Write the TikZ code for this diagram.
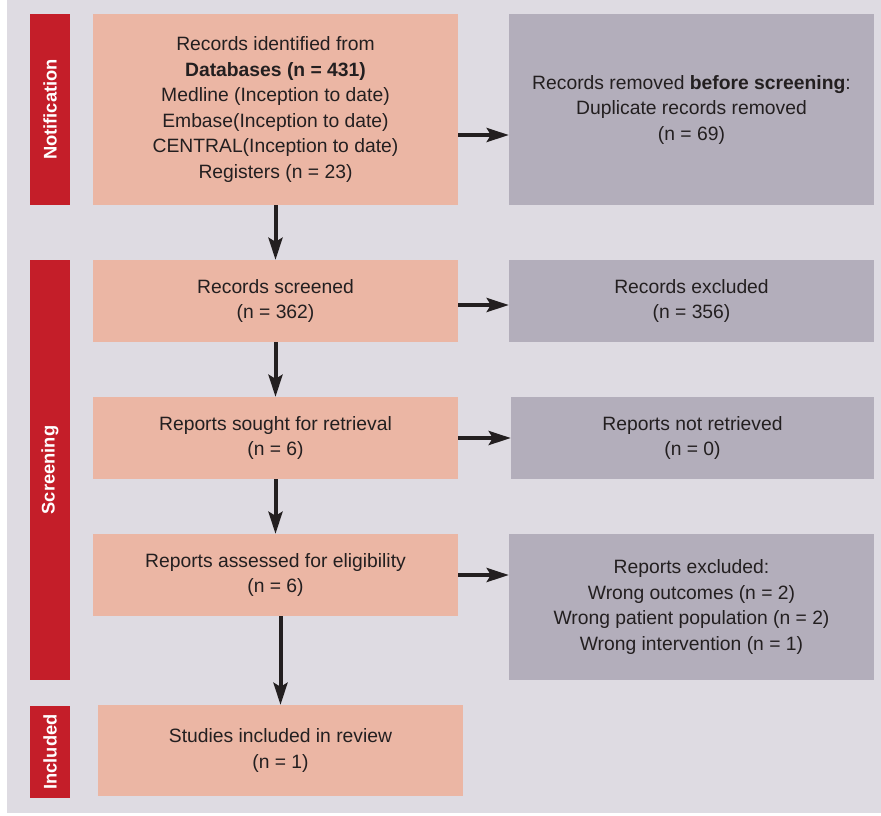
\documentclass[tikz,border=0pt]{standalone}
\usepackage{fontspec}
\setmainfont{Liberation Sans}
\usetikzlibrary{arrows.meta}

\definecolor{bgcol}{HTML}{DEDBE2}
\definecolor{barred}{HTML}{C41E29}
\definecolor{salmon}{HTML}{EBB6A4}
\definecolor{greybox}{HTML}{B3AEBB}
\definecolor{inkcol}{HTML}{231F20}

\tikzset{
  phase/.style={fill=barred, minimum width=40pt, inner sep=0pt, text=white,
    rotate=90, font=\fontsize{18.3}{20}\selectfont\bfseries},
  mainbox/.style={fill=salmon, minimum width=365pt, inner sep=0pt, align=center,
    text=inkcol, font=\fontsize{19.3}{25.5}\selectfont},
  sidebox/.style={mainbox, fill=greybox},
  flow/.style={line width=4pt, draw=inkcol,
    -{Stealth[length=22pt,width=14pt,inset=4pt]}}
}

\begin{document}
\begin{tikzpicture}[x=1pt,y=-1pt]

\useasboundingbox (0,0) rectangle (881,815);
\fill[bgcol] (7,0) rectangle (881,813);

%phase bars:
\node[phase, minimum width=191pt, minimum height=40pt] (notif) at (50,109.5) {Notification};
\node[phase, minimum width=420pt, minimum height=40pt] (screen) at (50,470) {Screening};
\node[phase, minimum width=92pt, minimum height=40pt] (incl) at (50,752) {Included};

%left column:
\node[mainbox, minimum height=191pt] (ident) at (275.5,109.5)
  {Records identified from\\ \textbf{Databases (n = 431)}\\ Medline (Inception to date)\\
   Embase(Inception to date)\\ CENTRAL(Inception to date)\\ Registers (n = 23)};
\node[mainbox, minimum height=82pt] (screened) at (275.5,301) {Records screened\\ (n = 362)};
\node[mainbox, minimum height=82pt] (sought) at (275.5,438) {Reports sought for retrieval\\ (n = 6)};
\node[mainbox, minimum height=82pt] (assessed) at (275.5,575) {Reports assessed for eligibility\\ (n = 6)};
\node[mainbox, minimum height=91pt] (included) at (280.5,750.5) {Studies included in review\\ (n = 1)};

%right column:
\node[sidebox, minimum height=191pt] (removed) at (691.5,109.5)
  {Records removed \textbf{before screening}:\\ Duplicate records removed\\ (n = 69)};
\node[sidebox, minimum height=82pt] (excluded) at (691.5,301) {Records excluded\\ (n = 356)};
\node[sidebox, minimum width=363pt, minimum height=82pt] (notretr) at (692.5,438) {Reports not retrieved\\ (n = 0)};
\node[sidebox, minimum height=146pt] (repexcl) at (691.5,607)
  {Reports excluded:\\ Wrong outcomes (n = 2)\\ Wrong patient population (n = 2)\\ Wrong intervention (n = 1)};

%arrows down:
\draw[flow] (ident) -- (screened);
\draw[flow] (screened) -- (sought);
\draw[flow] (sought) -- (assessed);
\draw[flow] (included.north |- assessed.south) -- (included);

%arrows right:
\draw[flow] ([yshift=-25.5pt]ident.east) -- ([yshift=-25.5pt]removed.west);
\draw[flow] ([yshift=-4pt]screened.east) -- ([yshift=-4pt]excluded.west);
\draw[flow] (sought.east) -- (notretr.west);
\draw[flow] (assessed.east) -- (assessed.east -| repexcl.west);

\end{tikzpicture}
\end{document}
